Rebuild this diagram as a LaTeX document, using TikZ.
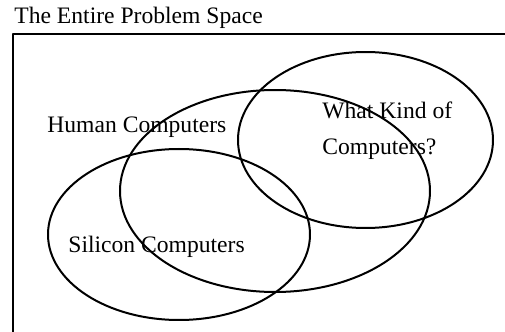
\documentclass[tikz,border=0pt]{standalone}
\usepackage{fontspec}
\setmainfont{Liberation Serif}
\usetikzlibrary{shapes.geometric}
\tikzset{l/.style={font=\fontsize{11.8}{18.35}\selectfont, inner sep=0pt, anchor=base west}}
\tikzset{set/.style={draw, ellipse, line width=1pt, inner sep=0pt}}

\begin{document}
\begin{tikzpicture}[x=0.5pt,y=-0.5pt,line join=round]
          \useasboundingbox (0,0) rectangle (505,332);
          % the whole space
          \coordinate (bl) at (13,332);
          \coordinate (tl) at (13,34);
          \coordinate (tr) at (505,34);
          \draw[line width=0.9pt] (bl) -- (tl) -- (tr);
          \node[l] (title) at (14,23.3) {The Entire Problem Space};
          % the three sets
          \node[set, minimum width=155pt, minimum height=101pt] (human) at (275,191) {};
          \node[set, minimum width=131pt, minimum height=85.5pt] (silicon) at (179,234.5) {};
          \node[set, minimum width=127.5pt, minimum height=88pt] (what) at (365.5,140) {};
          \node[l] (hc) at (47,132.3) {Human Computers};
          \node[l, align=left] (wk) at (322,155) {What Kind of\\Computers?};
          \node[l] (sc) at (68,253) {Silicon Computers};
        \end{tikzpicture}
\end{document}
